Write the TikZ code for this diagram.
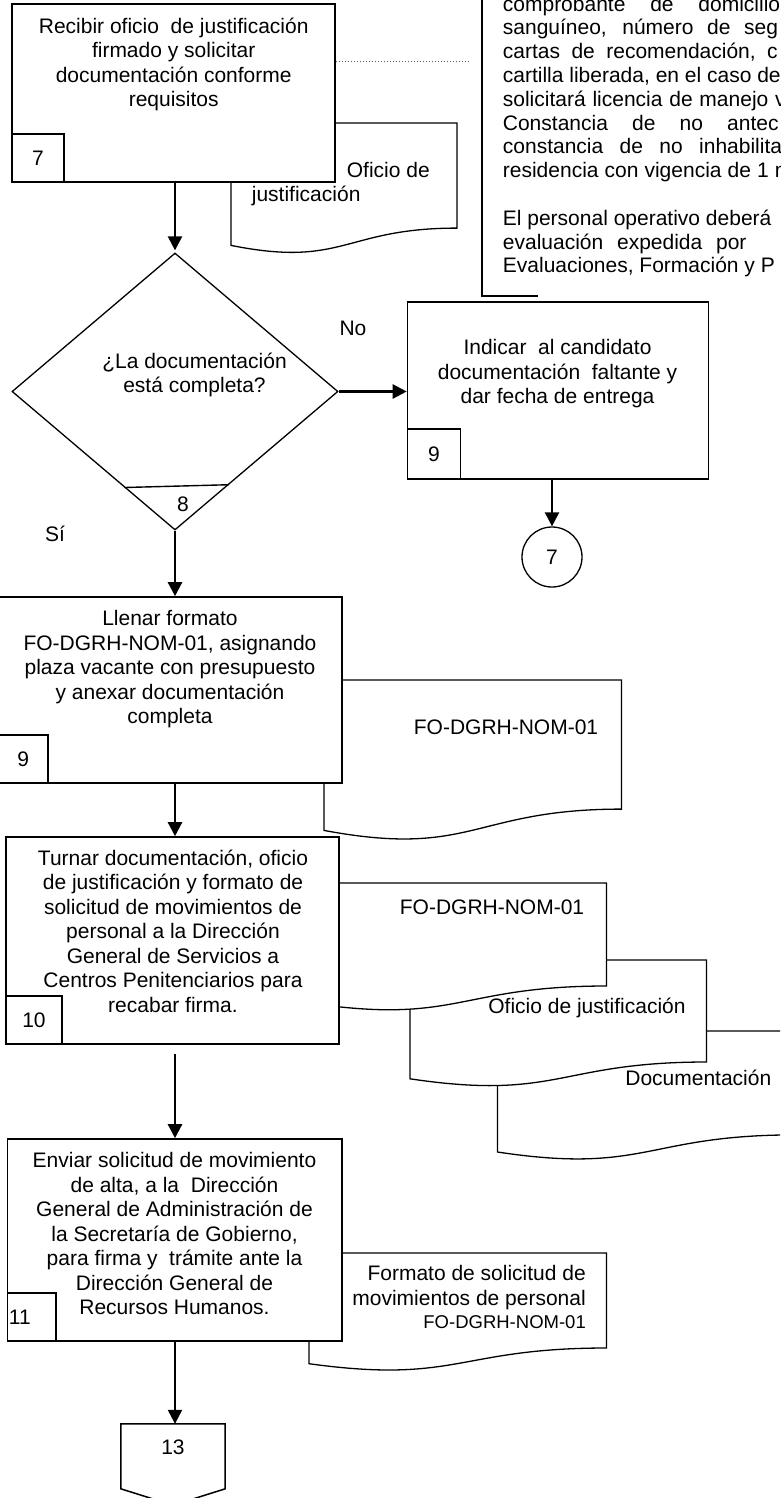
\documentclass[tikz,border=0pt]{standalone}
\usepackage{fontspec}
\setmainfont{Liberation Sans}
\usetikzlibrary{arrows.meta,shapes.geometric,calc}

\begin{document}
\begin{tikzpicture}[x=1pt,y=-1pt,
  box/.style={draw, line width=1.6pt, fill=white, inner sep=0pt},
  numcell/.style={draw, line width=1.5pt, fill=white, inner sep=0pt,
    anchor=south west, font=\fontsize{21}{24.5}\selectfont},
  doc/.style={draw, line width=1.3pt, fill=white},
  txt/.style={font=\fontsize{21}{24.5}\selectfont, align=center, inner sep=0pt,
    anchor=north, execute at begin node=\strut, execute at end node=\strut},
  lbl/.style={font=\fontsize{21}{24.5}\selectfont, inner sep=0pt, anchor=base},
  flow/.style={line width=2.4pt, -{Triangle[length=14pt,width=14pt]}},
  notetxt/.style={font=\fontsize{21}{23.8}\selectfont, inner sep=0pt,
    align=left, anchor=north west, execute at begin node=\strut},
]
\useasboundingbox (0,0) rectangle (780,1498);
\clip (0,0) rectangle (780,1498);
\fill[white] (0,0) rectangle (780,1498);

% ---------- documents (behind the process boxes) ----------
\draw[doc] (231,123) -- (457,123) -- (457,228.1)
  .. controls (344,228.1) and (344,268.1) .. (231,245.4) -- cycle;
\draw[doc] (324,680) -- (621.5,680) -- (621.5,809.1)
  .. controls (472.75,809.1) and (472.75,858.3) .. (324,830.4) -- cycle;
\draw[doc] (497.5,1031) -- (794.5,1031) -- (794.5,1134.9)
  .. controls (646,1134.9) and (646,1174.5) .. (497.5,1152) -- cycle;
\draw[doc] (410,960) -- (706.5,960) -- (706.5,1062)
  .. controls (558.25,1062) and (558.25,1100.9) .. (410,1078.8) -- cycle;
\draw[doc] (309,883) -- (606.5,883) -- (606.5,986)
  .. controls (457.75,986) and (457.75,1025.2) .. (309,1002.9) -- cycle;
\draw[doc] (309,1253) -- (606.5,1253) -- (606.5,1348)
  .. controls (457.75,1348) and (457.75,1384.2) .. (309,1363.7) -- cycle;

% document captions
\node[lbl, anchor=base west] (doc1a) at (346.7,177.5) {Oficio de};
\node[lbl, anchor=base west] (doc1b) at (251.7,201.5) {justificación};
\node[lbl] (doc2) at (506,734.5) {FO-DGRH-NOM-01};
\node[lbl] (docA) at (492,914.5) {FO-DGRH-NOM-01};
\node[lbl] (docB) at (587,1013.5) {Oficio de justificación};
\node[lbl] (docC) at (698.3,1085.5) {Documentación};
\node[txt, align=right, anchor=north east] (doc11) at (586,1265.4)
  {Formato de solicitud de\\movimientos de personal};
\node[inner sep=0pt, anchor=base east, font=\fontsize{18.5}{22}\selectfont]
  (doc11c) at (586,1328.7) {FO-DGRH-NOM-01};

% ---------- annotation ----------
\draw[line width=2pt] (481.5,-5) -- (481.5,296) -- (538,296);
\node[notetxt] (note) at (502.7,-4.4) {%
\makebox[195.6pt][s]{comprobante de\ }domicilio\\
\makebox[241.3pt][s]{sanguíneo, número de\ }seg\\
\makebox[264.3pt][s]{cartas de recomendación,\ }c\\
cartilla liberada, en el caso de\\
\makebox[272.3pt][s]{solicitará licencia de manejo\ }v\\
\makebox[224.3pt][s]{Constancia de no\ }antec\\
\makebox[196.3pt][s]{constancia de no\ }inhabilita\\
\makebox[272pt][s]{residencia con vigencia de 1\ }m\\[23.8pt]
El personal operativo deberá\\
\makebox[213.3pt][s]{evaluación expedida\ }por\\
Evaluaciones, Formación y P};

% ---------- process boxes ----------
\node[box, minimum width=323pt, minimum height=178pt] (b7) at (173.5,93) {};
\node[numcell, minimum width=52pt, minimum height=48pt] (n7) at (b7.south west) {7};
\node[txt] (t7) at (173.7,17.4)
  {Recibir oficio\ \ de justificación\\firmado y solicitar\\documentación conforme\\requisitos};

\coordinate (nt) at (469,62);
\draw[line width=1pt, black!65, dash pattern=on 1.4pt off 1.6pt] (b7.east |- nt) -- (nt);

\node[draw, diamond, line width=1.3pt, fill=white, inner sep=0pt,
  minimum width=326pt, minimum height=277pt] (d8) at (175,391.5) {};
\draw[line width=1.4pt] ($(d8.south)!0.31!(d8.west)$) -- ($(d8.south)!0.33!(d8.east)$);
\node[lbl] (n8) at (183,511.5) {8};
\node[txt] (t8) at (194.5,352.4) {¿La documentación\\está completa?};

\node[box, minimum width=301pt, minimum height=177pt] (b9) at (558,390.5) {};
\node[numcell, minimum width=53pt, minimum height=50pt] (n9) at (b9.south west) {9};
\node[txt] (t9) at (557.5,339.4)
  {Indicar\ \ al candidato\\documentación\ \ faltante y\\dar fecha de entrega};

\node[draw, circle, line width=1.3pt, fill=white, minimum size=60pt, inner sep=0pt,
  font=\fontsize{21}{24.5}\selectfont] (c7) at (552,557) {7};

\node[lbl] (no) at (353,335.5) {No};
\node[lbl] (si) at (55,541.5) {Sí};

\node[box, minimum width=343.5pt, minimum height=186pt] (b9b) at (170.25,690) {};
\node[numcell, minimum width=49.5pt, minimum height=48pt] (n9b) at (b9b.south west) {9};
\node[txt] (t9b) at (170,610.4)
  {Llenar formato\\FO-DGRH-NOM-01, asignando\\plaza vacante con presupuesto\\y anexar documentación\\completa};

\node[box, minimum width=333pt, minimum height=207pt] (b10) at (172.5,940.5) {};
\node[numcell, minimum width=56pt, minimum height=48pt] (n10) at (b10.south west) {10};
\node[txt] (t10) at (173,849.4)
  {Turnar documentación, oficio\\de justificación y formato de\\solicitud de movimientos de\\personal a la Dirección\\General de Servicios a\\Centros Penitenciarios para\\recabar firma.};

\node[box, minimum width=334.5pt, minimum height=202pt] (b11) at (174.75,1240) {};
\node[numcell, minimum width=48.5pt, minimum height=48pt] (n11) at (b11.south west) {};
\node[lbl, anchor=west] (n11t) at ([xshift=2pt]n11.west) {11};
\node[txt] (t11) at (174.5,1152.4)
  {Enviar solicitud de movimiento\\de alta, a la\ \ Dirección\\General de Administración de\\la Secretaría de Gobierno,\\para firma y\ \ trámite ante la\\Dirección General de\\Recursos Humanos.};

% off-page connector
\node[inner sep=0pt, minimum width=104pt, minimum height=81pt] (c13) at (173,1464.5) {};
\draw[line width=1.5pt, fill=white] (c13.north west) -- (c13.north east)
  -- ($(c13.north east)+(0,65)$) -- (c13.south) -- ($(c13.north west)+(0,65)$) -- cycle;
\node[lbl] (t13) at (173,1454.5) {13};

% ---------- connectors ----------
\draw[flow, shorten >=2pt] (b7.south -| d8.north) -- (d8.north);
\draw[flow] (d8.east) -- (d8.east -| b9.west);
\draw[flow] (b9.south -| c7.north) -- (c7.north);
\draw[flow] (d8.south) -- (d8.south |- b9b.north);
\draw[flow] (d8.south |- b9b.south) -- (d8.south |- b10.north);
\draw[flow, shorten <=9pt] (d8.south |- b10.south) -- (d8.south |- b11.north);
\draw[flow] (d8.south |- b11.south) -- (d8.south |- c13.north);
\end{tikzpicture}
\end{document}
